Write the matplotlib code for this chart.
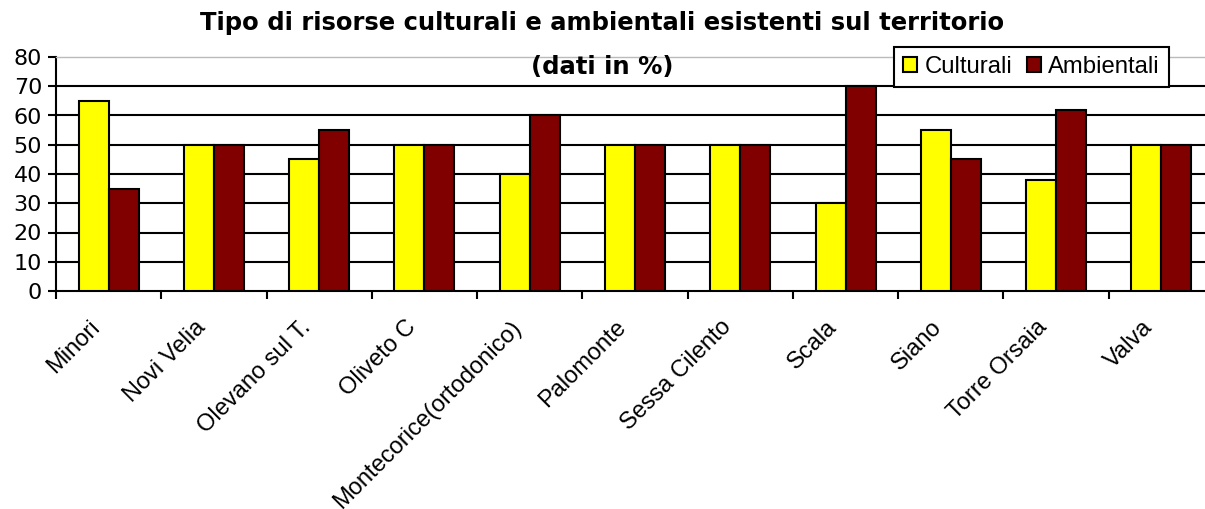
import numpy as np
import matplotlib
matplotlib.use("Agg")
import matplotlib.pyplot as plt
from matplotlib.transforms import ScaledTranslation

plt.rcParams['font.family'] = ['Liberation Sans', 'DejaVu Sans']

comuni = ["Minori", "Novi Velia", "Olevano sul T.", "Oliveto C",
          "Montecorice(ortodonico)", "Palomonte", "Sessa Cilento",
          "Scala", "Siano", "Torre Orsaia", "Valva"]
culturali = [65, 50, 45, 50, 40, 50, 50, 30, 55, 38, 50]
ambientali = [35, 50, 55, 50, 60, 50, 50, 70, 45, 62, 50]

W, H = 1205, 509
fig = plt.figure(figsize=(W / 100, H / 100), dpi=100)
ax = fig.add_axes([56 / W, 1 - 291 / H, 1158 / W, 234 / H])

x = np.arange(len(comuni))
w = 0.285
ax.bar(x - w / 2, culturali, w, color="#FFFF00", edgecolor="black",
       linewidth=1.5, label="Culturali", zorder=3)
ax.bar(x + w / 2, ambientali, w, color="#800000", edgecolor="black",
       linewidth=1.5, label="Ambientali", zorder=3)

ax.set_xlim(-0.5, len(comuni) - 0.5)
ax.set_ylim(0, 80)
ax.set_yticks(range(0, 90, 10))
for v in range(10, 80, 10):
    ax.axhline(v, color="black", linewidth=1.5, zorder=1)

ax.set_xticks(x)
ax.set_xticklabels(comuni, rotation=45, ha="right", va="center",
                   rotation_mode="anchor", fontsize=17)
ax.set_xticks(np.arange(-0.5, len(comuni)), minor=True)
ax.tick_params(axis="x", which="major", length=0, pad=18)
ax.tick_params(axis="x", which="minor", length=6, width=1.5, direction="out")
ax.tick_params(axis="y", length=6, width=1.5, labelsize=16, pad=4)
for lab in ax.get_yticklabels():
    lab.set_family("DejaVu Sans")
shift = ScaledTranslation(-12 / 100, -8 / 100, fig.dpi_scale_trans)
for lab in ax.get_xticklabels():
    lab.set_transform(lab.get_transform() + shift)

ax.spines["right"].set_visible(False)
ax.spines["top"].set_color("#bbbbbb")
ax.spines["top"].set_linewidth(1)
ax.spines["left"].set_linewidth(1.5)
ax.spines["bottom"].set_linewidth(1.5)

fig.text(0.5, 1 - 23 / H, "Tipo di risorse culturali e ambientali esistenti sul territorio",
         ha="center", va="center", fontsize=17.5, fontweight="bold",
         family="DejaVu Sans")
fig.text(0.5, 1 - 67 / H, "(dati in %)",
         ha="center", va="center", fontsize=17.5, fontweight="bold",
         family="DejaVu Sans", zorder=5)

leg = ax.legend(loc="upper left", bbox_to_anchor=((894 - 56) / 1158, 1 + 10 / 234),
                ncol=2, fontsize=17.2, frameon=True, fancybox=False,
                edgecolor="black", framealpha=1, handlelength=0.6,
                handleheight=0.6, handletextpad=0.3, columnspacing=0.6,
                borderpad=0.38, borderaxespad=0)
leg.get_frame().set_linewidth(1.5)
leg.set_zorder(10)

fig.savefig("out.png", dpi=100)
